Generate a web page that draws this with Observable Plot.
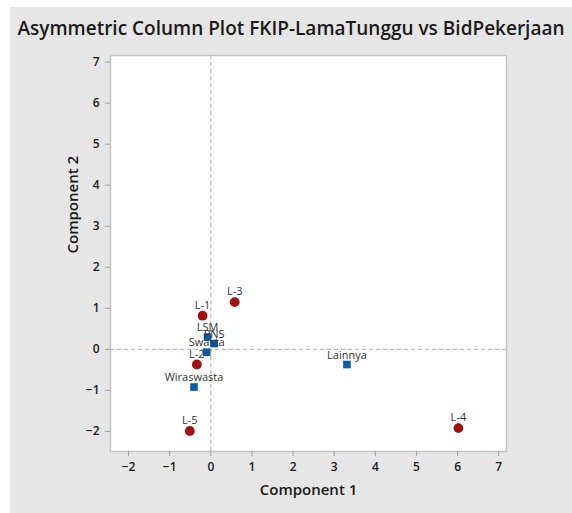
<!DOCTYPE html>
<html>
<head>
<meta charset="utf-8">
<script src="https://cdn.jsdelivr.net/npm/d3@7"></script>
<script src="https://cdn.jsdelivr.net/npm/@observablehq/plot@0.6"></script>
<style>
  html, body { margin: 0; padding: 0; background: #ffffff; }
  #wrap { position: absolute; left: 10px; top: 7px; width: 562px; height: 506px; background: #e6e6e6; }
  #title { height: 40px; box-sizing: border-box; padding-top: 12px; font-family: "Open Sans", sans-serif; font-weight: 600; font-size: 19px; line-height: 1; color: #1a1a1a; text-align: center; white-space: nowrap; }
  svg { display: block; }
</style>
</head>
<body>
<div id="wrap">
  <div id="title">Asymmetric Column Plot FKIP-LamaTunggu vs BidPekerjaan</div>
  <div id="chart"></div>
</div>
<script>
// Row points (LamaTunggu) - circles
const rowLabels = ["L-1", "L-2", "L-3", "L-4", "L-5"];
const rowComp1 = [-0.20, -0.34, 0.58, 6.02, -0.51];
const rowComp2 = [0.82, -0.37, 1.15, -1.92, -1.99];
// Column points (BidPekerjaan) - squares
const colLabels = ["LSM", "PNS", "Swasta", "Wiraswasta", "Lainnya"];
const colComp1 = [-0.08, 0.08, -0.10, -0.41, 3.31];
const colComp2 = [0.30, 0.14, -0.07, -0.92, -0.37];
// Axis ticks
const xTicks = [-2, -1, 0, 1, 2, 3, 4, 5, 6, 7];
const yTicks = [-2, -1, 0, 1, 2, 3, 4, 5, 6, 7];

const rows = rowLabels.map((l, i) => ({label: l, c1: rowComp1[i], c2: rowComp2[i]}));
const cols = colLabels.map((l, i) => ({label: l, c1: colComp1[i], c2: colComp2[i]}));

const chart = Plot.plot({
  width: 562,
  height: 466,
  marginLeft: 100,
  marginRight: 66,
  marginTop: 8,
  marginBottom: 62,
  style: {fontFamily: "Open Sans, sans-serif", fontSize: "12px", background: "transparent", overflow: "visible"},
  x: {domain: [-2.44, 7.19]},
  y: {domain: [-2.49, 7.16]},
  marks: [
    Plot.frame({fill: "white", stroke: "#c4c4c4", strokeWidth: 1.5}),
    Plot.ruleX([0], {stroke: "#a8a8a8", strokeDasharray: "4,3", strokeWidth: 1}),
    Plot.ruleY([0], {stroke: "#a8a8a8", strokeDasharray: "4,3", strokeWidth: 1}),
    Plot.axisX({ticks: xTicks, tickSize: 5, tickPadding: 6, stroke: "#9a9a9a", fill: "#1a1a1a", fontWeight: 600, fontSize: 12, label: null}),
    Plot.axisY({ticks: yTicks, tickSize: 5, tickPadding: 6, stroke: "#9a9a9a", fill: "#1a1a1a", fontWeight: 600, fontSize: 12, label: null}),
    Plot.text(["Component 1"], {text: d => d, frameAnchor: "bottom", dy: 43, lineAnchor: "bottom", fontSize: 15, fontWeight: 600, fill: "#1a1a1a"}),
    Plot.text(["Component 2"], {text: d => d, frameAnchor: "left", dx: -37, rotate: -90, lineAnchor: "middle", fontSize: 15, fontWeight: 600, fill: "#1a1a1a"}),
    Plot.dot(rows, {x: "c1", y: "c2", r: 4.9, fill: "#9c1414", stroke: "none", symbol: "circle"}),
    Plot.dot(cols, {x: "c1", y: "c2", r: 4.3, fill: "#0d5aa7", stroke: "none", symbol: "square"}),
    Plot.text(rows, {x: "c1", y: "c2", text: "label", dy: -7, lineAnchor: "bottom", fontSize: 11, fill: "#333333"}),
    Plot.text(cols, {x: "c1", y: "c2", text: "label", dy: -6, lineAnchor: "bottom", fontSize: 11, fill: "#333333"})
  ]
});
document.getElementById("chart").appendChild(chart);
</script>
</body>
</html>
